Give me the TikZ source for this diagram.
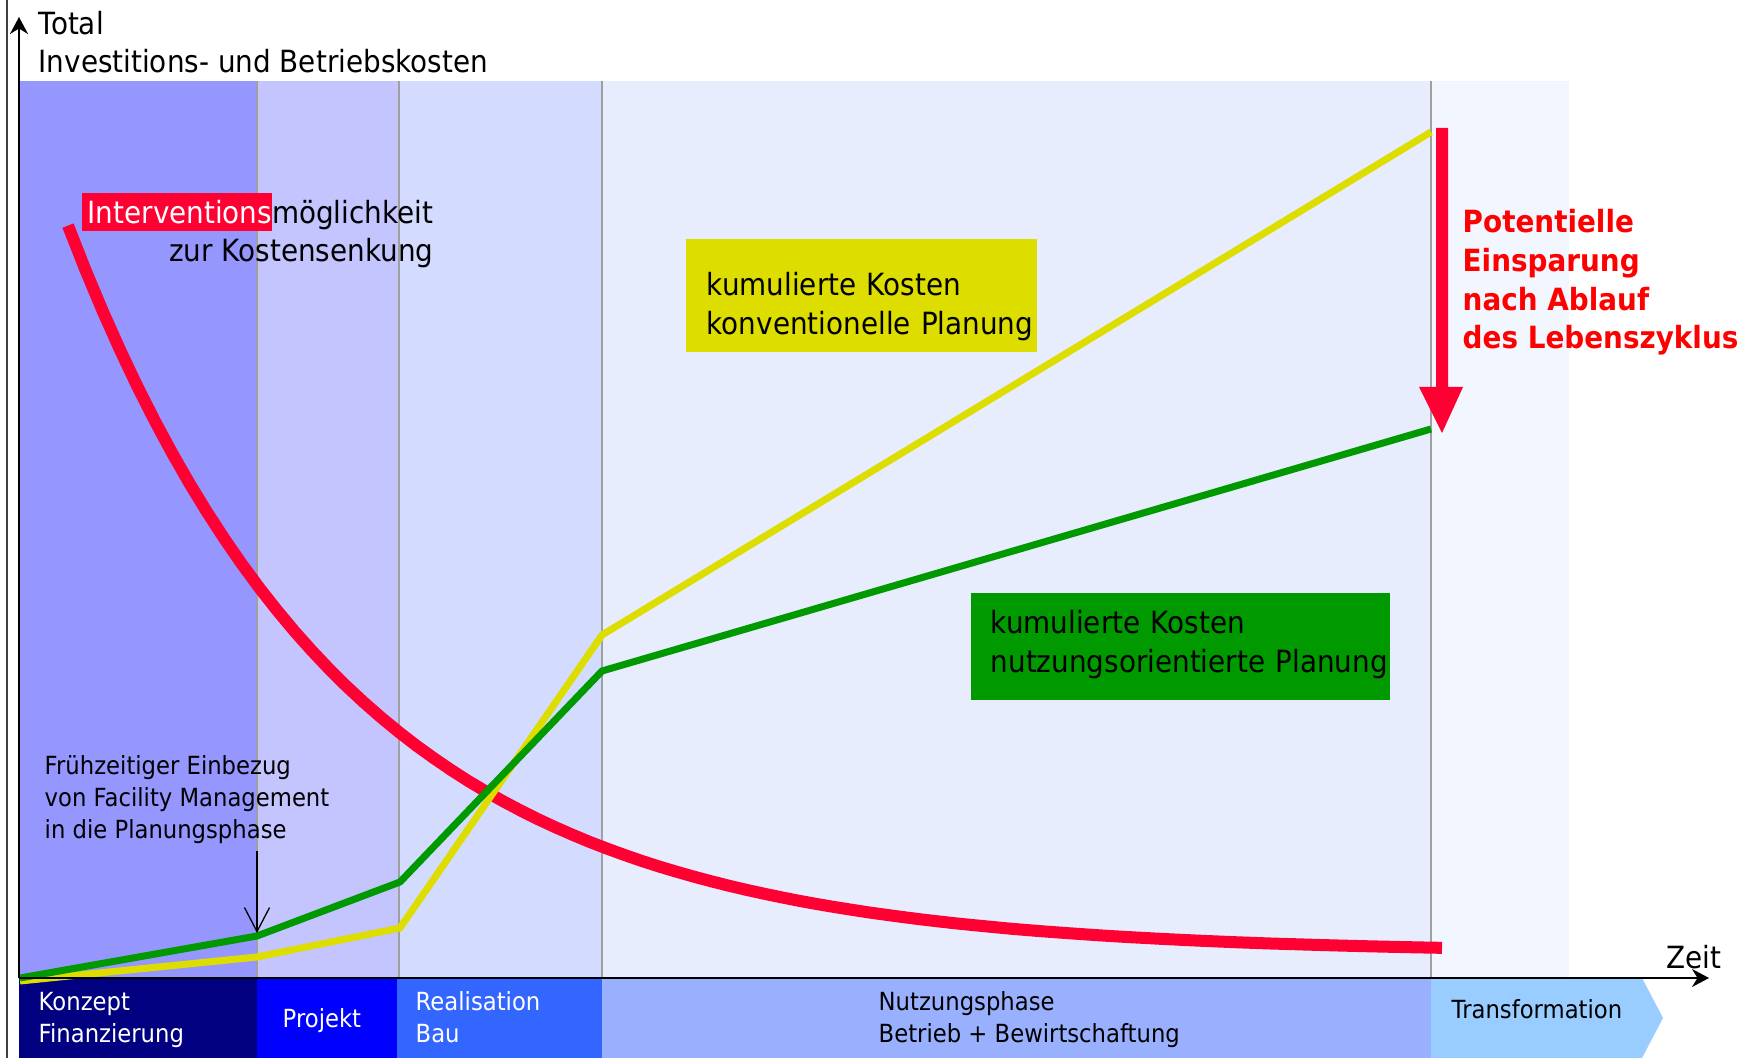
\documentclass[tikz,border=0pt]{standalone}
\usepackage{fontspec}
\setmainfont{DejaVu Sans}[FakeStretch=0.91]
\usetikzlibrary{arrows.meta}

\definecolor{bandA}{RGB}{150,150,255}
\definecolor{bandB}{RGB}{196,196,255}
\definecolor{bandC}{RGB}{211,220,255}
\definecolor{bandD}{RGB}{231,237,252}
\definecolor{bandE}{RGB}{242,246,254}
\definecolor{cKonz}{RGB}{0,0,128}
\definecolor{cProj}{RGB}{0,0,255}
\definecolor{cReal}{RGB}{51,102,255}
\definecolor{cNutz}{RGB}{153,176,255}
\definecolor{cTrans}{RGB}{153,204,255}
\definecolor{kred}{RGB}{255,0,51}
\definecolor{kyel}{RGB}{221,221,0}
\definecolor{kgrn}{RGB}{0,153,0}
\definecolor{sepgray}{RGB}{160,160,160}

\setlength{\fboxsep}{0pt}

\tikzset{
    bigtxt/.style={font=\fontsize{8.7}{11}\selectfont, inner sep=0, align=left},
    smalltxt/.style={font=\fontsize{7.1}{9}\selectfont, inner sep=0, align=left},
    sep/.style={draw=sepgray, line width=0.015cm},
    cost/.style={line width=0.07cm},
    axis/.style={line width=0.02cm, ->},
}

\begin{document}
\begin{tikzpicture}[x=0.01cm,y=-0.01cm,>={Stealth[length=0.17cm,width=0.18cm]}]
        \useasboundingbox (0,0) rectangle (1763,1058);
        % phases
        \fill [bandA] (20,81) rectangle (257,978);
        \fill [bandB] (257,81) rectangle (399,978);
        \fill [bandC] (399,81) rectangle (602,978);
        \fill [bandD] (602,81) rectangle (1431,978);
        \fill [bandE] (1431,81) rectangle (1569,978);
        \foreach \x in {257,399,602,1431}{
            \draw [sep] (\x,81) -- (\x,978);
        }
        \fill [cKonz] (19,978) rectangle (257,1058);
        \fill [cProj] (257,978) rectangle (397,1058);
        \fill [cReal] (397,978) rectangle (602,1058);
        \fill [cNutz] (602,978) rectangle (1431,1058);
        \fill [cTrans] (1431,978) -- (1642,978) -- (1663,1018) -- (1642,1058) -- (1431,1058) -- cycle;

        % curves
        \draw [kred,line width=0.12cm,domain=68:1442,samples=80] plot (\x,{953-929*exp(-0.0036*\x)});
        \coordinate (y0) at (20,981);
        \coordinate (y1) at (257,957);
        \coordinate (y2) at (400,928);
        \coordinate (y3) at (602,635);
        \coordinate (y4) at (1431,132);
        \coordinate (g0) at (20,978);
        \coordinate (g1) at (257,936);
        \coordinate (g2) at (400,882);
        \coordinate (g3) at (602,671);
        \coordinate (g4) at (1431,429);
        \draw [cost,kyel] (y0) -- (y1) -- (y2) -- (y3) -- (y4);
        \draw [cost,kgrn] (g0) -- (g1) -- (g2) -- (g3) -- (g4);

        % axes
        \draw [black!75,line width=0.015cm] (7,0) -- (7,1058);
        \draw [axis] (19,978) -- (19,17);
        \draw [axis] (19,978) -- (1709,978);

        \node [bigtxt,anchor=base west] (total) at (38,73) {Total\\Investitions- und Betriebskosten};
        \node [bigtxt,align=right,anchor=base east] (interv) at (434,262)
            {\colorbox{kred}{\rule[-0.08cm]{0pt}{0.38cm}\hspace{0.06cm}\textcolor{white}{Interventions}}möglichkeit\\zur Kostensenkung};
        \node [bigtxt,fill=kyel,anchor=north west,text width=3.51cm] (konv) at (685,238)
            {\hspace*{0.21cm}\rule{0pt}{0.57cm}kumulierte Kosten\\\hspace*{0.21cm}konventionelle Planung\rule[-0.18cm]{0pt}{0.18cm}};
        \node [bigtxt,fill=kgrn,anchor=north west,text width=4.19cm] (nutzo) at (970,592)
            {\hspace*{0.2cm}\rule{0pt}{0.41cm}kumulierte Kosten\\\hspace*{0.2cm}nutzungsorientierte Planung\rule[-0.28cm]{0pt}{0.28cm}};

        % savings
        \fill [kred] (1436,128) -- (1448,128) -- (1448,387) -- (1463,387) -- (1442,433) -- (1419,387) -- (1436,387) -- cycle;
        \node [bigtxt,font=\fontsize{8.7}{11}\selectfont\bfseries,text=red,anchor=base west] (spar) at (1462,349)
            {Potentielle\\Einsparung\\nach Ablauf\\des Lebenszyklus};

        \node [smalltxt,anchor=base west] (fm) at (44,838) {Frühzeitiger Einbezug\\von Facility Management\\in die Planungsphase};
        \coordinate (early) at (257,933);
        \draw [line width=0.013cm,shorten <=0.07cm,-{Straight Barb[length=0.24cm,width=0.25cm]}] (fm.south -| early) -- (early);

        % phase names
        \node [smalltxt,text=white,anchor=base west] (konzept) at (38,1042) {Konzept\\Finanzierung};
        \node [smalltxt,text=white,anchor=base west] (projekt) at (282,1027) {Projekt};
        \node [smalltxt,text=white,anchor=base west] (realis) at (415,1042) {Realisation\\Bau};
        \node [smalltxt,anchor=base west] (nutzung) at (878,1042) {Nutzungsphase\\Betrieb + Bewirtschaftung};
        \node [smalltxt,anchor=base west] (transf) at (1451,1018) {Transformation};
        \node [bigtxt,anchor=base west] (zeit) at (1666,968) {Zeit};
\end{tikzpicture}
\end{document}
